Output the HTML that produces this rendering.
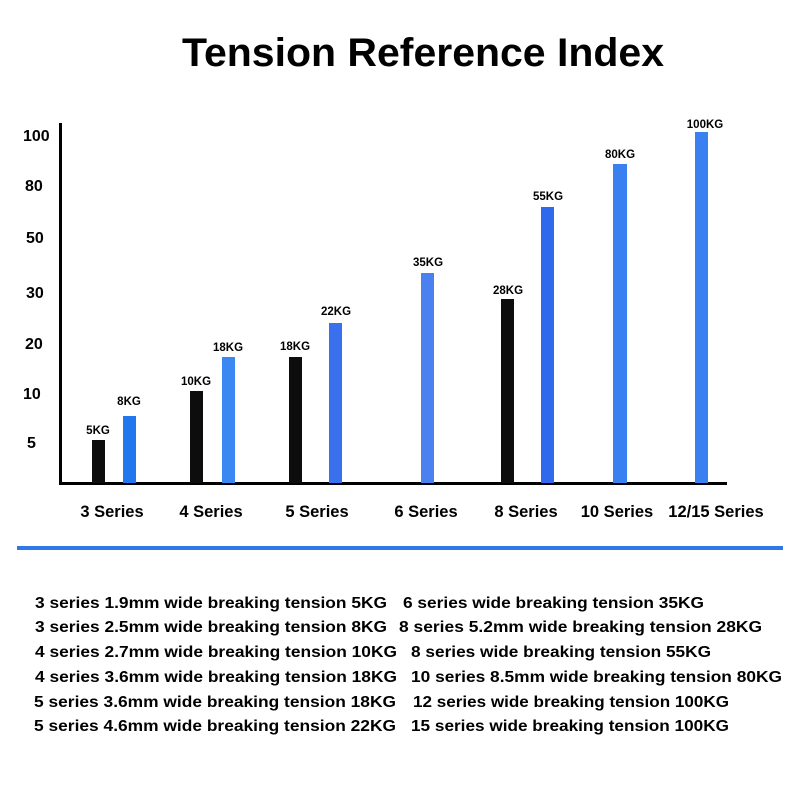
<!DOCTYPE html>
<html><head><meta charset="utf-8"><style>body{margin:0;background:#fff}svg{display:block}</style></head>
<body>
<svg width="800" height="800" viewBox="0 0 800 800" xmlns="http://www.w3.org/2000/svg" font-family="'Liberation Sans', sans-serif" font-weight="bold" fill="#000">
<text x="423" y="66" font-size="40" text-anchor="middle" textLength="482" lengthAdjust="spacingAndGlyphs">Tension Reference Index</text>
<g font-size="16">
<text x="23" y="141">100</text><text x="25" y="191">80</text><text x="26" y="243">50</text>
<text x="26" y="298">30</text><text x="25" y="349">20</text><text x="23" y="399">10</text><text x="27" y="448">5</text>
</g>
<rect x="59" y="123" width="3" height="362" fill="#000"/>
<rect x="59" y="482" width="668" height="3" fill="#000"/>
<g fill="#0d0d0d">
<rect x="92" y="440" width="13" height="43"/><rect x="190" y="391" width="13" height="92"/>
<rect x="289" y="357" width="13" height="126"/><rect x="501" y="299" width="13" height="184"/>
</g>
<g fill="#3a80f0">
<rect x="123" y="416" width="13" height="67" fill="#2277ee"/><rect x="222" y="357" width="13" height="126" fill="#3b88f2"/>
<rect x="329" y="323" width="13" height="160" fill="#3a70ee"/><rect x="421" y="273" width="13" height="210" fill="#4a80f0"/>
<rect x="541" y="207" width="13" height="276" fill="#3068ee"/><rect x="613" y="164" width="14" height="319"/>
<rect x="695" y="132" width="13" height="351"/>
</g>
<g font-size="11.5" text-anchor="middle">
<text x="98" y="434">5KG</text><text x="129" y="405">8KG</text>
<text x="196" y="385">10KG</text><text x="228" y="351">18KG</text>
<text x="295" y="350">18KG</text><text x="336" y="315">22KG</text>
<text x="428" y="266">35KG</text><text x="508" y="294">28KG</text>
<text x="548" y="200">55KG</text><text x="620" y="158">80KG</text><text x="705" y="128">100KG</text>
</g>
<g font-size="16.5" text-anchor="middle">
<text x="112" y="517">3 Series</text><text x="211" y="517">4 Series</text><text x="317" y="517">5 Series</text>
<text x="426" y="517">6 Series</text><text x="526" y="517">8 Series</text><text x="617" y="517">10 Series</text><text x="716" y="517">12/15 Series</text>
</g>
<rect x="17" y="546" width="766" height="4" fill="#2f78e6"/>
<g font-size="16">
<text x="35" y="608" textLength="352" lengthAdjust="spacingAndGlyphs">3 series 1.9mm wide breaking tension 5KG</text>
<text x="35" y="632" textLength="352" lengthAdjust="spacingAndGlyphs">3 series 2.5mm wide breaking tension 8KG</text>
<text x="35" y="657" textLength="362" lengthAdjust="spacingAndGlyphs">4 series 2.7mm wide breaking tension 10KG</text>
<text x="35" y="682" textLength="362" lengthAdjust="spacingAndGlyphs">4 series 3.6mm wide breaking tension 18KG</text>
<text x="34" y="707" textLength="362" lengthAdjust="spacingAndGlyphs">5 series 3.6mm wide breaking tension 18KG</text>
<text x="34" y="731" textLength="362" lengthAdjust="spacingAndGlyphs">5 series 4.6mm wide breaking tension 22KG</text>
<text x="403" y="608" textLength="301" lengthAdjust="spacingAndGlyphs">6 series wide breaking tension 35KG</text>
<text x="399" y="632" textLength="363" lengthAdjust="spacingAndGlyphs">8 series 5.2mm wide breaking tension 28KG</text>
<text x="411" y="657" textLength="300" lengthAdjust="spacingAndGlyphs">8 series wide breaking tension 55KG</text>
<text x="411" y="682" textLength="371" lengthAdjust="spacingAndGlyphs">10 series 8.5mm wide breaking tension 80KG</text>
<text x="413" y="707" textLength="316" lengthAdjust="spacingAndGlyphs">12 series wide breaking tension 100KG</text>
<text x="411" y="731" textLength="318" lengthAdjust="spacingAndGlyphs">15 series wide breaking tension 100KG</text>
</g>
</svg>
</body></html>
